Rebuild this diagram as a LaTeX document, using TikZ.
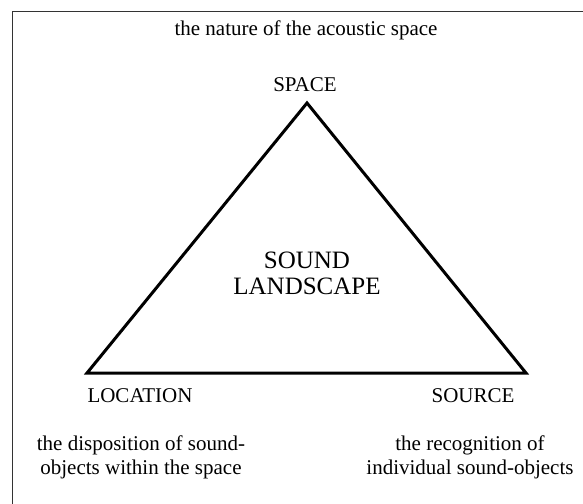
\documentclass[tikz,border=0pt]{standalone}
\usepackage{fontspec}
\setmainfont{Liberation Serif}
\begin{document}
\begin{tikzpicture}[x=1pt,y=-1pt,
  lbl/.style={inner sep=0pt,font=\fontsize{21}{24}\selectfont,align=center},
  big/.style={inner sep=0pt,font=\fontsize{25}{26}\selectfont,align=center},
  tri/.style={draw,line width=3pt,line join=miter}]
\useasboundingbox (0,0) rectangle (583,503);
\clip (0,0) rectangle (583,503);
\draw[line width=1pt,black!80] (12,12) rectangle (620,540);
\coordinate (top) at (307,103);
\coordinate (bl) at (87,373);
\coordinate (br) at (526,373);
\draw[tri] (top) -- (bl) -- (br) -- cycle;
\node[lbl] (nature) at (306,30) {the nature of the acoustic space};
\node[lbl] (space) at (305,85) {SPACE};
\node[big] (land) at (307,273) {SOUND\\LANDSCAPE};
\node[lbl] (loc) at (140,396) {LOCATION};
\node[lbl] (src) at (473,396) {SOURCE};
\node[lbl] (dispo) at (141,457) {the disposition of sound-\\objects within the space};
\node[lbl] (recog) at (470,457) {the recognition of\\individual sound-objects};
\end{tikzpicture}
\end{document}
